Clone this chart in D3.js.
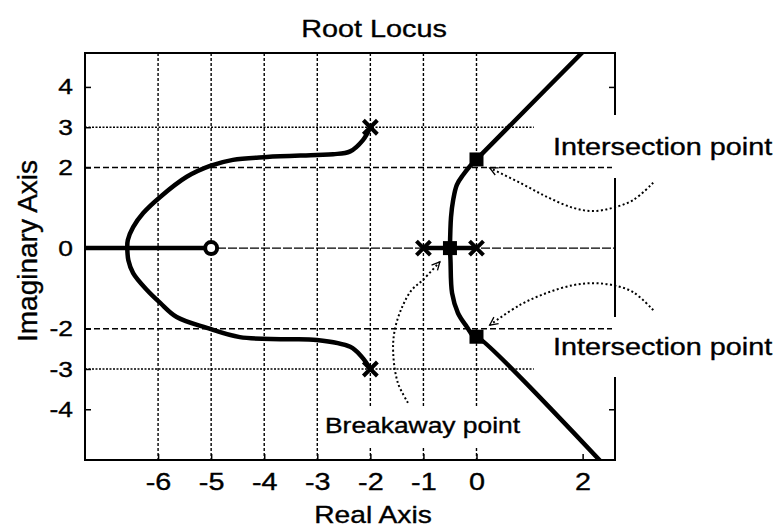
<!DOCTYPE html>
<html>
<head>
<meta charset="utf-8">
<script src="https://cdn.jsdelivr.net/npm/d3@7"></script>
<style>
  body { margin: 0; background: #fff; }
  text { font-family: "Liberation Sans", Arial, sans-serif; fill: #000; stroke: #000; stroke-width: 0.35px; }
</style>
</head>
<body>
<div id="chart-container"></div>
<script>
// Poles (x), zero (o) and marked points (squares), as (real, imag)
const poles = [[-2, 3], [-2, -3], [-1, 0], [0, 0]];
const zeros = [[-5, 0]];
const markedPoints = [[-0.5, 0], [0, 2.2], [0, -2.2]];

// Locus branches
const realAxisLeft = [[-7.6, 0], [-5, 0]];
const realAxisMid = [[-1, 0], [0, 0]];
const upperLeftBranch = [[-2, 3], [-2.14, 2.68], [-2.38, 2.4], [-2.7, 2.33], [-3.01, 2.31], [-3.95, 2.26],
  [-4.59, 2.19], [-5.02, 2.04], [-5.46, 1.77], [-5.96, 1.27], [-6.28, 0.87], [-6.47, 0.52], [-6.57, 0.2], [-6.58, 0]];
const lowerLeftBranch = [[-6.58, 0], [-6.56, -0.3], [-6.47, -0.62], [-6.21, -1.04], [-5.96, -1.36], [-5.65, -1.71],
  [-5.08, -1.98], [-4.46, -2.21], [-3.65, -2.26], [-3.01, -2.28], [-2.38, -2.45], [-2.16, -2.7], [-2, -3]];
const upperRightBranch = [[-0.5, 0], [-0.48, 0.77], [-0.44, 1.19], [-0.37, 1.57], [-0.25, 1.82], [-0.12, 2.04], [0, 2.2], [2.5, 5.53]];
const lowerRightBranch = [[-0.5, 0], [-0.49, -0.3], [-0.46, -1.12], [-0.35, -1.61], [-0.18, -1.96], [-0.03, -2.23], [0, -2.2], [2.6, -5.66]];

// Annotation arrows (dotted), in data units
const arrowTop = [[3.33, 1.62], [2.95, 1.19], [2.57, 1.0], [2.2, 0.92], [1.82, 1.0], [1.33, 1.27], [0.82, 1.62], [0.25, 1.99]];
const arrowBottom = [[3.33, -1.54], [2.95, -1.09], [2.57, -0.92], [2.2, -0.87], [1.82, -0.92], [1.33, -1.11], [0.82, -1.41], [0.25, -1.91]];
const arrowBreak = [[-1.29, -3.84], [-1.48, -3.35], [-1.57, -2.6], [-1.54, -2.03], [-1.4, -1.46], [-1.22, -1.04], [-1.01, -0.79], [-0.69, -0.34]];

const xTicks = [-6, -5, -4, -3, -2, -1, 0, 2];
const yTicks = [4, 3, 2, 0, -2, -3, -4];
const xGrid = [-6, -5, -4, -3, -2, -1, 0];
const yGridFull = [2, 0, -2];
const yGridShort = [3, -3];
const rightTicks = [4, -4];

const margin = { top: 53, right: 163, bottom: 69, left: 85 };
const width = 778 - margin.left - margin.right;
const height = 529 - margin.top - margin.bottom;
const sx = 1.2; // the scan is stretched sideways

const svg = d3.select("#chart-container")
  .append("svg")
  .attr("width", 778)
  .attr("height", 529);

const g = svg.append("g")
  .attr("transform", "translate(" + margin.left + "," + margin.top + ")");

const x = d3.scaleLinear().domain([-7.377, 2.61]).range([0, width]);
const y = d3.scaleLinear().domain([-5.259, 4.842]).range([height, 0]);

svg.append("defs").append("clipPath").attr("id", "plot-clip")
  .append("rect").attr("width", width).attr("height", height);
svg.select("defs").append("marker")
  .attr("id", "head")
  .attr("markerUnits", "userSpaceOnUse")
  .attr("viewBox", "-10 -6 12 12")
  .attr("markerWidth", 12).attr("markerHeight", 12)
  .attr("orient", "auto")
  .append("path")
  .attr("d", "M-8,-4L0,0L-8,4")
  .attr("fill", "none").attr("stroke", "#000").attr("stroke-width", 1.3);

// Grid
g.selectAll(".vgrid").data(xGrid).enter().append("line")
  .attr("x1", d => x(d)).attr("x2", d => x(d))
  .attr("y1", 0).attr("y2", height)
  .attr("stroke", "#000").attr("stroke-width", 1.4).attr("stroke-dasharray", "3,2");
g.selectAll(".hgrid").data(yGridFull).enter().append("line")
  .attr("x1", 0).attr("x2", width)
  .attr("y1", d => y(d)).attr("y2", d => y(d))
  .attr("stroke", "#000").attr("stroke-width", 1.4).attr("stroke-dasharray", d => d === 0 ? "9,2" : "6,3");
g.selectAll(".hgrid-short").data(yGridShort).enter().append("line")
  .attr("x1", 0).attr("x2", x(1.08))
  .attr("y1", d => y(d)).attr("y2", d => y(d))
  .attr("stroke", "#000").attr("stroke-width", 1.4).attr("stroke-dasharray", "2,1.5");

// Axes with inward ticks, plain hyphen minus signs
const fmt = d => String(d);
const yAxis = g.append("g")
  .call(d3.axisLeft(y).tickValues(yTicks).tickFormat(fmt).tickSizeInner(-6).tickSizeOuter(0).tickPadding(10));
const xAxis = g.append("g")
  .attr("transform", "translate(0," + height + ")")
  .call(d3.axisBottom(x).tickValues(xTicks).tickFormat(fmt).tickSizeInner(-6).tickSizeOuter(0).tickPadding(13));
g.append("g")
  .attr("transform", "translate(" + width + ",0)")
  .call(d3.axisRight(y).tickValues(rightTicks).tickSizeInner(-6).tickSizeOuter(0).tickFormat(""));
g.selectAll(".domain").remove();
g.selectAll(".tick line").attr("stroke", "#000").attr("stroke-width", 1.5);
yAxis.selectAll("text").style("font-size", "22px").attr("transform", "scale(" + sx + ",1)");
xAxis.selectAll("text").style("font-size", "24px").attr("transform", "scale(" + sx + ",1)");

// Frame
g.append("rect")
  .attr("width", width).attr("height", height)
  .attr("fill", "none").attr("stroke", "#000").attr("stroke-width", 2);

// Text helper
function addText(parent, str, px, py, size, anchor, scaleX) {
  return parent.append("text")
    .attr("transform", "translate(" + px + "," + py + ") scale(" + scaleX + ",1)")
    .attr("text-anchor", anchor)
    .style("font-size", size + "px")
    .text(str);
}

// White gaps behind annotation labels (they cut the frame and grid)
const gaps = svg.append("g");
gaps.append("rect").attr("x", margin.left + width - 3).attr("y", 115).attr("width", 170).attr("height", 63).attr("fill", "#fff");
gaps.append("rect").attr("x", margin.left + width - 3).attr("y", 317).attr("width", 170).attr("height", 60).attr("fill", "#fff");
gaps.append("rect").attr("x", 322).attr("y", 406).attr("width", 206).attr("height", 42).attr("fill", "#fff");

// Locus
const line = d3.line().x(d => x(d[0])).y(d => y(d[1])).curve(d3.curveCatmullRom);
const locus = g.append("g").attr("clip-path", "url(#plot-clip)");
[realAxisLeft, realAxisMid, upperLeftBranch, lowerLeftBranch, upperRightBranch, lowerRightBranch].forEach(b => {
  locus.append("path")
    .attr("d", line(b))
    .attr("fill", "none").attr("stroke", "#000").attr("stroke-width", 4.5)
    .attr("stroke-linejoin", "round");
});

// Markers
g.selectAll(".pole").data(poles).enter().append("path")
  .attr("d", d => {
    const cx = x(d[0]), cy = y(d[1]), r = 7;
    return "M" + (cx - r) + "," + (cy - r) + "L" + (cx + r) + "," + (cy + r) +
      "M" + (cx - r) + "," + (cy + r) + "L" + (cx + r) + "," + (cy - r);
  })
  .attr("stroke", "#000").attr("stroke-width", 4);
g.selectAll(".zero").data(zeros).enter().append("circle")
  .attr("cx", d => x(d[0])).attr("cy", d => y(d[1])).attr("r", 6)
  .attr("fill", "#fff").attr("stroke", "#000").attr("stroke-width", 4);
g.selectAll(".mark").data(markedPoints).enter().append("rect")
  .attr("x", d => x(d[0]) - 7).attr("y", d => y(d[1]) - 7)
  .attr("width", 14).attr("height", 14).attr("fill", "#000");

// Dotted annotation arrows
const arrowLine = d3.line().x(d => x(d[0])).y(d => y(d[1])).curve(d3.curveCatmullRom);
[arrowTop, arrowBottom, arrowBreak].forEach(a => {
  g.append("path")
    .attr("d", arrowLine(a))
    .attr("fill", "none").attr("stroke", "#000").attr("stroke-width", 2)
    .attr("stroke-dasharray", "2,2.5")
    .attr("marker-end", "url(#head)");
});

// Labels
addText(svg, "Root Locus", 374, 37, 24, "middle", sx);
addText(svg, "Real Axis", 373, 523, 23.5, "middle", sx);
svg.append("text")
  .attr("transform", "translate(37,251) rotate(-90)")
  .attr("text-anchor", "middle")
  .style("font-size", "28px")
  .text("Imaginary Axis");
addText(svg, "Intersection point", 553, 155, 24, "start", sx);
addText(svg, "Intersection point", 553, 355, 24, "start", sx);
addText(svg, "Breakaway point", 325, 433, 22, "start", sx);
</script>
</body>
</html>
